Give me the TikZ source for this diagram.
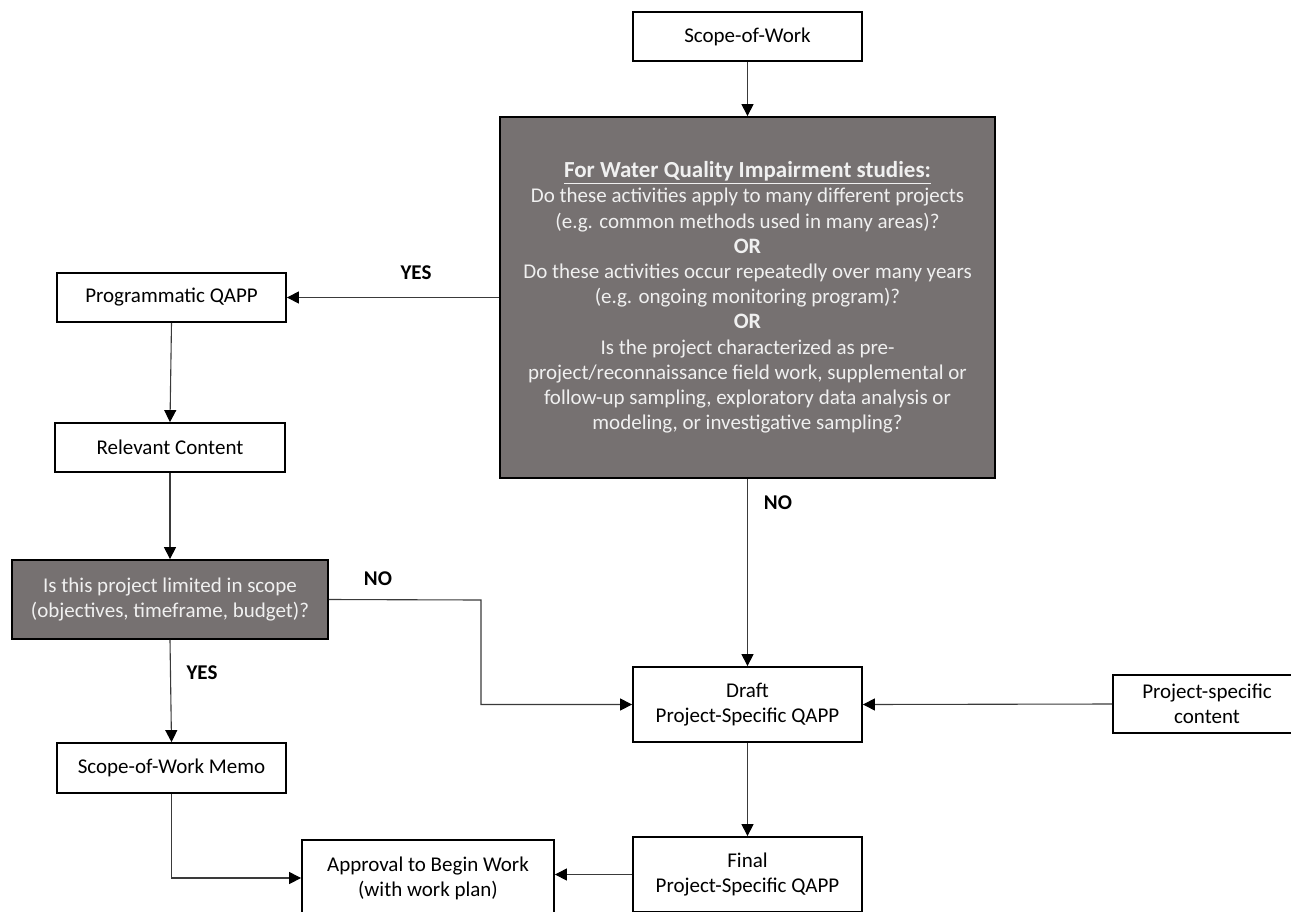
\documentclass[tikz,border=0pt]{standalone}
\usepackage{fontspec}
\setmainfont{Carlito}
\usetikzlibrary{arrows.meta,calc}
\definecolor{boxgray}{HTML}{767171}
\definecolor{boxtext}{HTML}{F0F0F0}
\definecolor{linegray}{HTML}{3A3A3A}
\begin{document}
\begin{tikzpicture}[x=1pt,y=-1pt,
  every node/.style={font=\fontsize{21}{25.2}\selectfont},
  wbox/.style={draw=black,line width=1.8pt,fill=white,align=center,inner sep=0pt,text=black},
  gbox/.style={draw=black,line width=1.8pt,fill=boxgray,align=center,inner sep=0pt,text=boxtext},
  conn/.style={draw=linegray,line width=1.1pt,-{Triangle[length=12pt,width=12pt,color=black]}},
  lbl/.style={font=\fontsize{21}{25.2}\selectfont\bfseries,text=black,inner sep=0pt}]
\useasboundingbox (0,0) rectangle (1291,911);
\node[wbox,minimum width=229pt,minimum height=49pt] (sow) at (747.5,36.5) {Scope-of-Work};
\node[gbox,minimum width=495pt,minimum height=361pt] (gray) at (747.5,297.5)
 {{\fontsize{23}{25.2}\selectfont\underline{\textbf{For Water Quality Impairment studies:}}}\\
  Do these activities apply to many different projects\\
  (e.g. common methods used in many areas)?\\
  {\fontsize{22}{25.2}\selectfont\textbf{OR}}\\
  Do these activities occur repeatedly over many years\\
  (e.g. ongoing monitoring program)?\\
  {\fontsize{22}{25.2}\selectfont\textbf{OR}}\\
  Is the project characterized as pre-\\
  project/reconnaissance field work, supplemental or\\
  follow-up sampling, exploratory data analysis or\\
  modeling, or investigative sampling?};
\node[wbox,minimum width=229pt,minimum height=49pt] (prog) at (171.5,297.5) {Programmatic QAPP};
\node[wbox,minimum width=230pt,minimum height=49pt] (rel) at (170,447.5) {Relevant Content};
\node[gbox,minimum width=316pt,minimum height=79pt] (dec) at (170,599.5)
 {Is this project limited in scope\\(objectives, timeframe, budget)?};
\node[wbox,minimum width=229pt,minimum height=50pt] (memo) at (171.5,768) {Scope-of-Work Memo};
\node[wbox,minimum width=229pt,minimum height=75pt] (draft) at (747.5,704.5) {Draft\\Project-Specific QAPP};
\node[wbox,minimum width=229pt,minimum height=75pt] (final) at (747.5,874.5) {Final\\Project-Specific QAPP};
\node[wbox,minimum width=252pt,minimum height=76pt] (appr) at (428,878) {Approval to Begin Work\\(with work plan)};
\node[wbox,minimum width=188pt,minimum height=58pt] (psc) at (1207,704) {Project-specific\\content};
\coordinate (bend) at (481,600);
\draw[conn] (sow.south) -- (gray.north);
\draw[conn] (gray.west) -- (prog.east);
\draw[conn] (prog.south) -- (rel.north);
\draw[conn] (rel.south) -- (dec.north);
\draw[conn] (dec.east) -- (bend) |- (draft.west);
\draw[conn] (dec.south) -- (memo.north);
\draw[conn] (gray.south) -- (draft.north);
\draw[conn] (psc.west) -- (draft.east);
\draw[conn] (draft.south) -- (final.north);
\draw[conn] (final.west) -- (final.west -| appr.east);
\draw[conn] (memo.south) |- (appr.west);
\node[lbl] (yes1) at (416,273) {YES};
\node[lbl] (no1) at (778,503) {NO};
\node[lbl] (no2) at (378,579) {NO};
\node[lbl] (yes2) at (202,673) {YES};
\end{tikzpicture}
\end{document}
